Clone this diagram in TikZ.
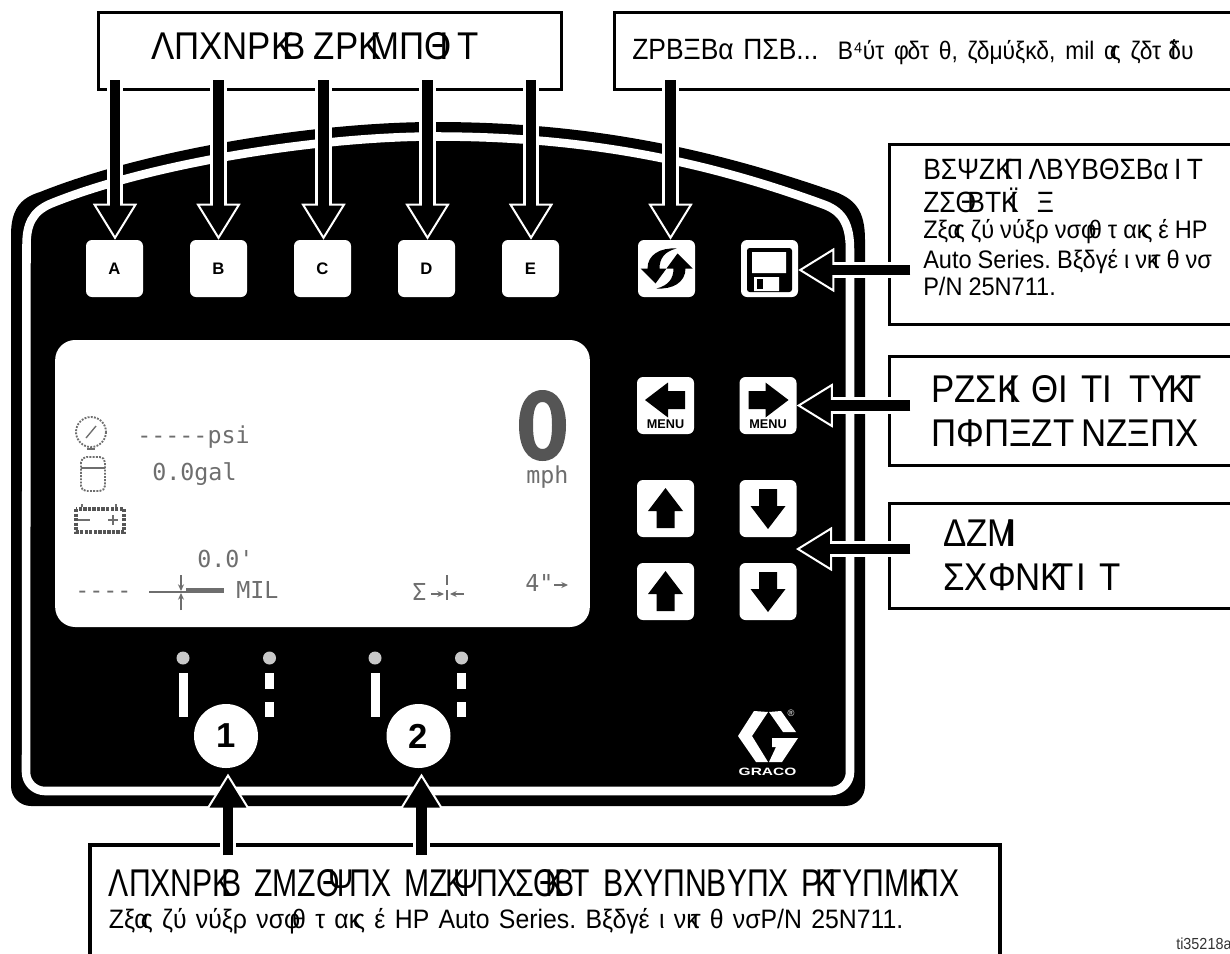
\documentclass[tikz,border=0pt]{standalone}
\usepackage{fontspec}
\usepackage{tikz}
\usetikzlibrary{arrows.meta,positioning,calc}
\setmainfont{Liberation Sans}
\newfontfamily\cond[FakeStretch=0.9]{Liberation Sans}
\newfontfamily\narr[FakeStretch=0.78]{Liberation Sans}
\newfontfamily\semi[FakeStretch=0.93]{Liberation Sans}
\newfontfamily\lcdfont{DejaVu Sans Mono}
\newfontfamily\logofont[FakeStretch=1.45]{Liberation Sans}
\definecolor{lcdink}{RGB}{110,110,110}
\definecolor{lcddark}{RGB}{85,85,85}
\definecolor{ledgrey}{RGB}{200,200,200}
\newcommand{\hdbig}{\cond\fontsize{29}{33}\selectfont}
\newcommand{\hdnar}{\narr\fontsize{29}{33}\selectfont}
\newcommand{\hdmid}{\cond\fontsize{22}{25}\selectfont}
\newcommand{\smtxt}{\semi\fontsize{19}{22.5}\selectfont\spaceskip=4.5pt\xspaceskip=4.5pt\relax}
\newcommand{\smwide}{\semi\fontsize{20}{22.5}\selectfont\spaceskip=7pt\xspaceskip=7pt\relax}
\newcommand{\ov}{\kern-.3em}
\tikzset{
  lblbox/.style={draw=black,line width=1.9pt,fill=white,anchor=north west,align=left,inner ysep=0pt},
  keybtn/.style={fill=white,rounded corners=4.5pt,minimum size=42.75pt,inner sep=0pt,font=\fontsize{12.5}{14}\selectfont\bfseries},
  numdisc/.style={circle,fill=white,minimum size=48pt,inner sep=0pt,font=\fontsize{26}{28}\selectfont\bfseries},
  callout/.style={line width=8pt,black,
    -{Triangle[length=27pt,width=33pt,fill=black,color=white,line width=1.5pt]},
    preaction={draw,white,line width=12.5pt,-,shorten >=20pt},
    postaction={draw,black,line width=8pt,-,shorten >=20pt}},
  lcdtxt/.style={font=\lcdfont\fontsize{17.5}{20}\selectfont,text=lcdink,inner sep=0pt,anchor=base west},
  led/.style={circle,fill=ledgrey,minimum size=9.75pt,inner sep=0pt},
  ledbar/.style={fill=white,minimum width=6.75pt,inner sep=0pt},
  lcdline/.style={draw=lcdink,line width=1pt},
  lcdarr/.style={lcdline,-{Stealth[length=5pt,width=4.5pt]}},
}
\begin{document}
\begin{tikzpicture}[x=0.75pt,y=-0.75pt]
  \useasboundingbox (0,0) rectangle (1230,953);
  \fill[black] (11,235) .. controls (11,210) and (20,198) .. (40,192)
    .. controls (150,148) and (320,122) .. (435,122)
    .. controls (580,122) and (700,145) .. (830,190)
    .. controls (855,198) and (865,210) .. (865,240)
    -- (865,786) arc[start angle=0,end angle=90,radius=20] -- (31,806)
    arc[start angle=90,end angle=180,radius=20] -- cycle;
  \draw[white,line width=6.4pt] (26.5,245) .. controls (26.5,225) and (32,212) .. (50,204)
    .. controls (150,163) and (320,136.5) .. (435,136.5)
    .. controls (580,136.5) and (700,159) .. (825,205)
    .. controls (843,212) and (850,225) .. (850,250)
    -- (850,772) arc[start angle=0,end angle=90,radius=19] -- (45,791)
    arc[start angle=90,end angle=180,radius=19] -- cycle;
  \node[fill=white,rounded corners=15pt,minimum width=401pt,minimum height=215.25pt,inner sep=0pt] (lcd) at (322.5,483.5) {};
  \foreach \k/\xa in {A/114.5,B/218.5,C/322.5,D/426.5,E/530.5}
    \node[keybtn] (btn\k) at (\xa,268.5) {\k};
  \node[keybtn] (btnSync) at (666.5,268.5) {};
  \node[keybtn] (btnSave) at (769.5,268.5) {};
  \node[keybtn] (btnMenuL) at (665.5,405.5) {};
  \node[keybtn] (btnMenuR) at (768,405.5) {};
  \node[keybtn] (btnUpA) at (665.5,508.5) {};
  \node[keybtn] (btnDnA) at (768,508.5) {};
  \node[keybtn] (btnUpB) at (665.5,591.5) {};
  \node[keybtn] (btnDnB) at (768,591.5) {};
  \foreach \b/\ang in {btnUpA/0,btnUpB/0,btnDnA/180,btnDnB/180}
    \fill[black,shift={(\b.center)},rotate=\ang] (0,-20.5) -- (17.5,2.5) -- (9,2.5) -- (9,19.5)
      -- (-9,19.5) -- (-9,2.5) -- (-17.5,2.5) -- cycle;
  \foreach \b/\ang in {btnMenuL/90,btnMenuR/-90}
    \fill[black,shift={($(\b.center)+(0,-5.5)$)},rotate=\ang] (0,-20.5) -- (17.5,2.5) -- (9,2.5) -- (9,19.5)
      -- (-9,19.5) -- (-9,2.5) -- (-17.5,2.5) -- cycle;
  \foreach \b in {btnMenuL,btnMenuR}
    \node[font=\fontsize{9.5}{10}\selectfont\bfseries,inner sep=0pt] at ($(\b.center)+(0,18.5)$) {MENU};
  \foreach \ang in {0,180}
    \fill[black,shift={(btnSync.center)},rotate=\ang] (-26,0) -- (0,0) -- (-11,15) -- cycle
      (-19,0) .. controls (-19,-14) and (-6,-21) .. (10,-20) .. controls (-2,-17) and (-7,-10) .. (-7,0) -- cycle;
  \fill[black,rounded corners=2pt] (747,248) rectangle (792,292);
  \fill[white] (752,252) rectangle (786,273) (754,277) rectangle (779,291);
  \fill[black] (757,279) rectangle (763,289);
  \node[led] (ledA) at (183,658) {};
  \node[led] (ledB) at (269.5,658) {};
  \node[led] (ledC) at (375,658) {};
  \node[led] (ledD) at (461.5,658) {};
  \node[ledbar,minimum height=33pt,anchor=north] at (183,673) {};
  \node[ledbar,minimum height=33pt,anchor=north] at (375,673) {};
  \foreach \xa in {269.5,461.5} {
    \node[ledbar,minimum height=12pt,anchor=north] at (\xa,673) {};
    \node[ledbar,minimum height=11.25pt,anchor=north] at (\xa,702) {};
  }
  \node[numdisc] (num1) at (226,736) {1};
  \node[numdisc] (num2) at (418.5,736) {2};
  \fill[white] (754,711) -- (738,736) -- (756,762) -- (768,762) -- (752,736) -- (768,712) -- cycle
    (769,712) -- (781,711) -- (796,732) -- (783,732) -- cycle
    (772,738) -- (798,738) -- (782,762) -- (769,762) -- (776,747) -- (772,747) -- cycle;
  \node[text=white,inner sep=0pt,font=\fontsize{7}{8}\selectfont] at (791,713) {®};
  \node[text=white,inner sep=0pt,font=\logofont\fontsize{8}{9}\selectfont\bfseries] at (767.5,772) {GRACO};
  \draw[lcdline,line width=1.4pt,densely dotted] (91,432) circle[radius=15];
  \draw[lcdline] (86,438) -- (96,426);
  \draw[lcdline,line width=1.5pt] (87,449) -- (95,449);
  \draw[lcdline,line width=1.4pt,densely dotted,rounded corners=4pt] (81,457) rectangle (105,491);
  \draw[lcdline] (81,468) -- (105,468);
  \draw[lcddark,line width=2.4pt,densely dotted] (76,509) rectangle (124,532);
  \draw[lcdline] (78,520) -- (90,520) (108,520) -- (118,520) (113,515) -- (113,525) (82,507) -- (82,504) (116,507) -- (116,504);
  \node[lcdtxt] (psi) at (137,443) {-----psi};
  \node[lcdtxt] (gal) at (152,480) {0.0gal};
  \node[lcdtxt] (dist) at (197,567) {0.0'};
  \node[lcdtxt] (nil) at (75,598) {----};
  \node[lcdtxt] (mil) at (236,598) {MIL};
  \node[lcdtxt] (mph) at (526,483) {mph};
  \node[lcdtxt] (size) at (525,591) {4"};
  \node[lcdtxt] (sum) at (412,600) {Σ};
  \draw[lcdline] (149,592) -- (186,592);
  \draw[lcdink,line width=3.6pt] (186,590.5) -- (224,590.5);
  \draw[lcdarr] (181,575) -- (181,591);
  \draw[lcdarr] (181,610) -- (181,593);
  \draw[lcdarr] (431,594) -- (444,594);
  \draw[lcdarr] (464,594) -- (450,594);
  \draw[lcdline,line width=2pt] (447,575) -- (447,585) (447,590) -- (447,600);
  \draw[lcdarr] (554,585) -- (568,585);
  \fill[lcddark,even odd rule] (542.5,390) .. controls (558,390) and (566,405) .. (566,425)
    .. controls (566,447) and (558,461) .. (542.5,461) .. controls (527,461) and (519,447) .. (519,425)
    .. controls (519,405) and (527,390) .. (542.5,390) -- cycle
    (542.5,402) .. controls (535,402) and (533,412) .. (533,425) .. controls (533,439) and (535,449) .. (542.5,449)
    .. controls (550,449) and (552,439) .. (552,425) .. controls (552,412) and (550,402) .. (542.5,402) -- cycle;
  \node[lblbox,font=\hdbig,text depth=7.5pt,text width=267.75pt,inner xsep=39.75pt,minimum height=57.75pt] (boxKeys) at (97,11)
    {ΛΠΧΝΡΚ\ov Β\kern6pt ΖΡΚ\ov ΜΠΘ\ov Ι\kern6.5pt Τ};
  \node[lblbox,font=\hdmid,text depth=1.5pt,text width=438pt,inner xsep=13.5pt,minimum height=57.75pt] (boxSync) at (613,11)
    {ΖΡΒΞΒα ΠΣΒ...\ \ \fontsize{19}{22.5}\selectfont Β⁴ύτ φ\kern-1pt δτ\ θ,\ ζδμύξκδ,\ mil\ α\ov ς\ ζδτ\ ΐ\ov δυ};
  \node[lblbox,font=\hdmid,text width=300pt,inner xsep=25.5pt,minimum height=135pt] (boxSave) at (888,143)
    {ΒΣΨΖΚ\ov Π\kern4pt ΛΒΥΒΘΣΒα\kern4pt Ι\kern4pt Τ\\ΖΣΘ\ov ΒΤΚ\ov Ϊ\ \ Ξ\\[-3pt]\smtxt Ζξα\ov ς ζύ νύξρ νσφ\ov θ τ ακ\ov ς έ HP\\[0pt]\smtxt Auto Series. Βξδγέ ι νκ\ov τ θ νσ\\[-2pt]\smtxt P/N 25N711.\\[-14.5pt]~};
  \node[lblbox,font=\hdbig,text width=300pt,inner xsep=31.5pt,minimum height=81.75pt] (boxMenu) at (888,355)
    {ΡΖΣΚ\ov Ι ΘΙ ΤΙ\kern13.3pt ΤΥ\kern-4pt Κ\ov Τ\\ΠΦΠΞΖΤ\kern5pt ΝΖΞΠΧ};
  \node[lblbox,font=\hdbig,text width=300pt,inner xsep=40.5pt,minimum height=78.75pt] (boxArrows) at (888,502)
    {ΔΖΜ\ov Ι\\ΣΧΦΝΚ\ov Τ\kern2pt Ι\kern10pt Τ};
  \node[lblbox,line width=2.8pt,font=\hdnar,text width=654pt,inner xsep=14.25pt,minimum height=84.75pt] (boxPump) at (88,843)
    {ΛΠΧΝΡΚ\ov Β ΖΜΖΘ\ov Ψ\kern-3pt ΠΧ ΜΖ\kern-2pt Κ\ov Ψ\kern-2pt ΠΧ\kern-2pt ΣΘ\ov Κ\ov Β\kern-2pt Τ ΒΧΥΠΝΒΥΠΧ Ρ\kern-5pt Κ\ov ΤΥΠΜΚ\ov ΠΧ\\[-9pt]\smwide Ζξα\ov ς ζύ νύξρ νσφ\ov θ τ ακ\ov ς έ HP Auto Series. Βξδγέ ι νκ\ov τ θ νσP/N 25N711.};
  \node[anchor=base west,inner sep=0pt,text=black!80,font=\cond\fontsize{12}{14}\selectfont] (tag) at (1176,949) {ti35218a};
  \foreach \k/\xa in {A/115,B/218.5,C/323.5,D/427.5,E/531}
    \coordinate (s\k) at (\xa,80);
  \coordinate (sSync) at (670.5,80);
  \coordinate (sSave) at (910,270);
  \coordinate (sMenu) at (910,405.5);
  \coordinate (sArr) at (910,549);
  \coordinate (tArr) at (796,549);
  \coordinate (sNum1) at (228,855);
  \coordinate (sNum2) at (421.5,855);
  \foreach \k in {A,B,C,D,E,Sync}
    \draw[callout] (s\k) -- (s\k |- btn\k.north);
  \draw[callout] (sSave) -- (sSave -| btnSave.east);
  \draw[callout] (sMenu) -- (btnMenuR);
  \draw[callout] (sArr) -- (tArr);
  \draw[callout,shorten >=4pt] (sNum1) -- (sNum1 |- num1.south);
  \draw[callout,shorten >=4pt] (sNum2) -- (sNum2 |- num2.south);
\end{tikzpicture}
\end{document}
